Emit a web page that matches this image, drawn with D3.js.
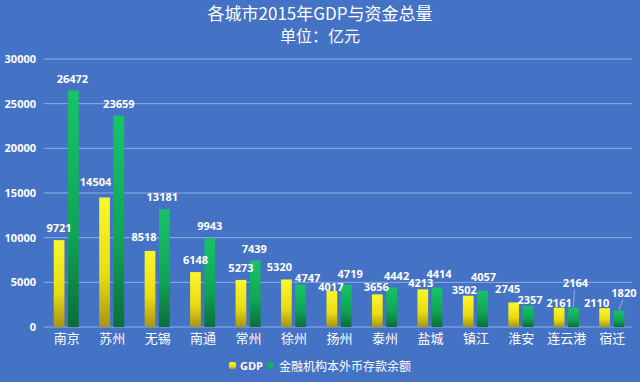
<!DOCTYPE html>
<html><head><meta charset="utf-8">
<script src="https://cdn.jsdelivr.net/npm/d3@7"></script>
<style>
html,body{margin:0;padding:0;background:#4472c4;}
svg{display:block;}
</style></head>
<body>
<svg id="chart" width="640" height="382"></svg>
<script>
const categories = ["南京","苏州","无锡","南通","常州","徐州","扬州","泰州","盐城","镇江","淮安","连云港","宿迁"];
const gdp = [9721,14504,8518,6148,5273,5320,4017,3656,4213,3502,2745,2161,2110];
const deposits = [26472,23659,13181,9943,7439,4747,4719,4442,4414,4057,2357,2164,1820];
const seriesNames = ["GDP","金融机构本外币存款余额"];
const yTicks = [0,5000,10000,15000,20000,25000,30000];
const titleLines = ["各城市2015年GDP与资金总量","单位：亿元"];

// layout: value-label nudges [dx, dy] per category, as placed in the original
const gdpLabelNudge = [[0,0],[-9,-3],[-6,-2],[0,0],[0,0],[-7,0],[-1,8],[-1,5],[-2,6],[-4,6],[-6,-1],[0,7],[-8,7]];
const depLabelNudge = [[-1,0],[0,0],[-2,0],[0,0],[-1,0],[7,5],[4,1],[5,1],[2,-2],[1,-2],[2,6],[2,-13],[5,-6]];

const svg = d3.select("#chart");
const W = 640, H = 382;
const fontCN = "'Noto Sans CJK SC','Noto Sans',sans-serif";
const fontNum = "'Open Sans','Liberation Sans',sans-serif";

svg.append("rect").attr("width",W).attr("height",H).attr("fill","#4472c4");

const defs = svg.append("defs");
const gy = defs.append("linearGradient").attr("id","gy").attr("x1",0).attr("y1",0).attr("x2",0).attr("y2",1);
gy.append("stop").attr("offset","0%").attr("stop-color","#fbf72a");
gy.append("stop").attr("offset","60%").attr("stop-color","#e9dd12");
gy.append("stop").attr("offset","100%").attr("stop-color","#a89414");
const gg = defs.append("linearGradient").attr("id","gg").attr("x1",0).attr("y1",0).attr("x2",0).attr("y2",1);
gg.append("stop").attr("offset","0%").attr("stop-color","#17c468");
gg.append("stop").attr("offset","60%").attr("stop-color","#0fa554");
gg.append("stop").attr("offset","100%").attr("stop-color","#0b6e3a");

const x = d3.scaleBand().domain(categories).range([44, 635]).paddingInner(0).paddingOuter(0);
const y = d3.scaleLinear().domain([0,30000]).range([327, 59]);

// grid
svg.append("g").selectAll("line").data(yTicks).join("line")
  .attr("x1", 44).attr("x2", 632)
  .attr("y1", d=>y(d)).attr("y2", d=>y(d))
  .attr("stroke", "#8eaee6").attr("stroke-width", 1);

// y axis labels
const yAxis = d3.axisLeft(y).tickValues(yTicks).tickSize(0).tickPadding(0).tickFormat(d3.format("d"));
const ya = svg.append("g").attr("transform","translate(36,0)").call(yAxis);
ya.select(".domain").remove();
ya.selectAll("text").attr("fill","#ffffff").style("font-family",fontNum).style("font-size","11px").style("font-weight","bold");

// x axis labels
const xAxis = d3.axisBottom(x).tickSize(0).tickPadding(0);
const xa = svg.append("g").attr("transform","translate(0,334)").call(xAxis);
xa.select(".domain").remove();
xa.selectAll("text").attr("fill","#ffffff").style("font-family",fontCN).style("font-size","13px");

const sub = d3.scaleBand().domain([0,1]).range([-13,12]).paddingInner(0.25);

const rows = categories.map((c,i)=>({c, i, vals:[gdp[i], deposits[i]]}));
const groups = svg.append("g").selectAll("g").data(rows).join("g")
  .attr("transform", d=>`translate(${x(d.c)+x.bandwidth()/2},0)`);

groups.selectAll("rect").data(d=>d.vals.map((v,k)=>({v,k}))).join("rect")
  .attr("x", d=>sub(d.k)).attr("width", sub.bandwidth())
  .attr("y", d=>y(d.v)).attr("height", d=>y(0)-y(d.v))
  .attr("fill", d=>d.k===0?"url(#gy)":"url(#gg)");

const nudgeOf = d => (d.k===0 ? gdpLabelNudge : depLabelNudge)[d.i];
const labels = rows.flatMap(r => r.vals.map((v,k)=>({v,k,i:r.i,c:r.c})));

// leader lines for raised labels (drawn first, under text)
labels.filter(d => nudgeOf(d)[1] < -4).forEach(d=>{
  const cx = x(d.c)+x.bandwidth()/2+sub(d.k)+sub.bandwidth()/2;
  const [dx,dy] = nudgeOf(d);
  svg.append("line").attr("x1",cx).attr("x2",cx+dx-1)
    .attr("y1",y(d.v)-1).attr("y2",y(d.v)-8+dy+3)
    .attr("stroke","#a9c1ee").attr("stroke-width",0.8);
});

svg.append("g").selectAll("text").data(labels).join("text")
  .attr("x", d=>x(d.c)+x.bandwidth()/2+sub(d.k)+sub.bandwidth()/2 + nudgeOf(d)[0])
  .attr("y", d=>y(d.v)-8 + nudgeOf(d)[1])
  .attr("text-anchor","middle")
  .attr("fill","#ffffff")
  .style("font-family",fontNum).style("font-size","11px").style("font-weight","bold")
  .text(d=>d.v);

// title
svg.append("g").selectAll("text").data(titleLines).join("text")
  .attr("x", 320).attr("y",(d,i)=>20+i*22)
  .attr("text-anchor","middle").attr("fill","#ffffff")
  .style("font-family",fontCN).style("font-size",(d,i)=>i===0?"17px":"16px")
  .text(d=>d);

// legend
const leg = svg.append("g").attr("transform","translate(0,366)");
leg.append("rect").attr("x",229).attr("y",-4).attr("width",7).attr("height",7).attr("rx",1.5).attr("fill","url(#gy)");
leg.append("text").attr("x",240).attr("y",4).attr("fill","#fff")
  .style("font-family",fontNum).style("font-size","11px").style("font-weight","bold").text(seriesNames[0]);
leg.append("rect").attr("x",267).attr("y",-4).attr("width",7).attr("height",7).attr("rx",3.5).attr("fill","#12b060");
leg.append("text").attr("x",279).attr("y",4.5).attr("fill","#fff")
  .style("font-family",fontCN).style("font-size","12px").text(seriesNames[1]);
</script>
</body></html>
